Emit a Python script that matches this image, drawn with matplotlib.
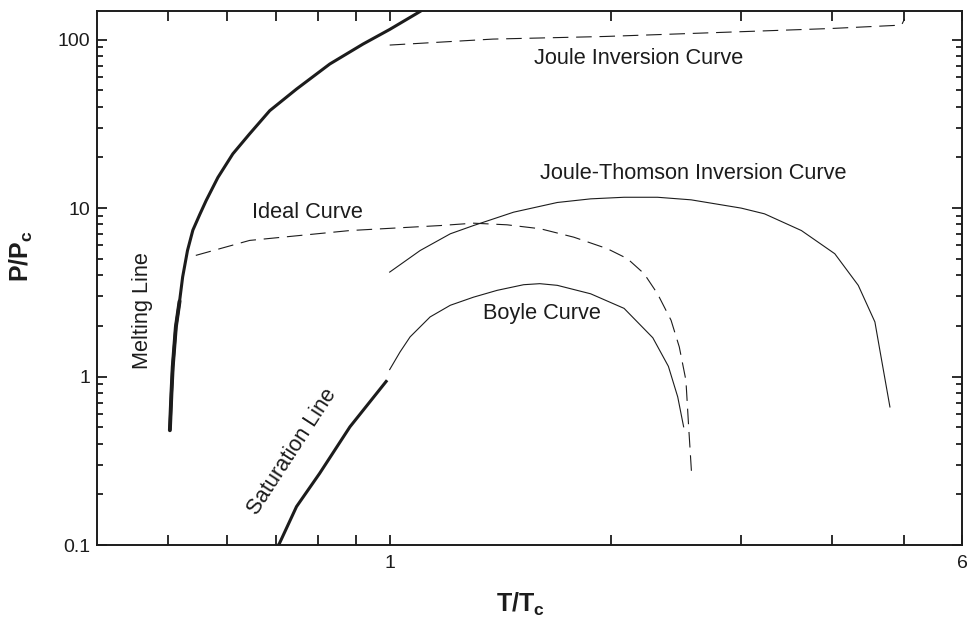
import matplotlib
matplotlib.use("Agg")
import matplotlib.pyplot as plt
from matplotlib.ticker import FixedLocator, NullFormatter, FuncFormatter, LogLocator

plt.rcParams['font.family'] = ['Liberation Sans', 'DejaVu Sans']
plt.rcParams['mathtext.fontset'] = 'custom'
plt.rcParams['mathtext.rm'] = 'Liberation Sans'
plt.rcParams['mathtext.bf'] = 'Liberation Sans:bold'

INK = '#1c1c1c'

# reduced temperature / reduced pressure for each curve
melt_T = [0.5025, 0.505, 0.507, 0.512, 0.518, 0.523, 0.531, 0.540, 0.552, 0.563,
          0.584, 0.612, 0.645, 0.687, 0.747, 0.829, 0.920, 1.00, 1.094, 1.14]
melt_P = [0.48, 0.80, 1.14, 1.97, 2.8, 3.9, 5.6, 7.4, 9.2, 11.1,
          15.2, 21.0, 27.6, 37.9, 50.9, 71.7, 94.2, 115, 145, 162]

sat_T = [0.70, 0.708, 0.747, 0.803, 0.883, 0.992]
sat_P = [0.095, 0.102, 0.169, 0.266, 0.503, 0.951]

boyle_T = [1.0, 1.033, 1.066, 1.135, 1.209, 1.300, 1.40, 1.521, 1.60, 1.690,
           1.876, 2.083, 2.279, 2.393, 2.464, 2.510]
boyle_P = [1.10, 1.40, 1.72, 2.26, 2.65, 2.96, 3.25, 3.51, 3.56, 3.48,
           3.10, 2.54, 1.70, 1.15, 0.757, 0.503]

ideal_T = [0.545, 0.645, 0.883, 1.172, 1.300, 1.444, 1.603, 1.780, 1.977, 2.105,
           2.218, 2.313, 2.413, 2.476, 2.528, 2.549, 2.574]
ideal_P = [5.24, 6.43, 7.36, 7.88, 8.14, 7.96, 7.54, 6.72, 5.74, 5.01,
           4.08, 3.10, 2.16, 1.50, 0.95, 0.514, 0.26]

jt_T = [1.0, 1.1, 1.209, 1.300, 1.474, 1.690, 1.876, 2.083, 2.313, 2.569,
        3.006, 3.233, 3.629, 4.029, 4.336, 4.568, 4.640, 4.788]
jt_P = [4.17, 5.6, 7.04, 7.88, 9.46, 10.8, 11.35, 11.6, 11.6, 11.2,
        10.0, 9.25, 7.36, 5.36, 3.48, 2.11, 1.43, 0.66]

joule_T = [1.0, 1.381, 1.965, 2.796, 3.98, 4.86, 4.97, 5.01]
joule_P = [92.9, 100.8, 104.5, 110.3, 116.5, 121.5, 123.0, 132.4]

x_major = [1, 6]
x_minor = [0.5, 0.6, 0.7, 0.8, 0.9, 2, 3, 4, 5]
y_major = [0.1, 1, 10, 100]

fig = plt.figure(figsize=(9.67, 6.18), dpi=100)
ax = fig.add_axes([97 / 967, 1 - 545 / 618, 865 / 967, 534 / 618])
ax.set_xscale('log')
ax.set_yscale('log')
ax.set_xlim(0.4, 6)
ax.set_ylim(0.1, 148)

dash = (0, (14, 7))
ax.plot(melt_T, melt_P, color=INK, lw=2.2, solid_capstyle='butt', solid_joinstyle='round')
# lower end of the melting line is drawn a bit heavier
ax.plot(melt_T[:5], melt_P[:5], color=INK, lw=2.8, solid_capstyle='round', solid_joinstyle='round')
ax.plot(sat_T, sat_P, color=INK, lw=2.2, solid_capstyle='butt')
ax.plot(boyle_T, boyle_P, color=INK, lw=0.8)
ax.plot(jt_T, jt_P, color=INK, lw=0.8)
ax.plot(ideal_T, ideal_P, color=INK, lw=0.8, ls=dash)
ax.plot(joule_T, joule_P, color=INK, lw=0.8, ls=dash)

fs = 15.7
ax.text(0.772, 9.42, 'Ideal Curve', fontsize=fs, color=INK, ha='center', va='center')
ax.text(1.612, 2.37, 'Boyle Curve', fontsize=fs, color=INK, ha='center', va='center')
ax.text(2.585, 16.0, 'Joule-Thomson Inversion Curve', fontsize=fs, color=INK,
        ha='center', va='center')
ax.text(2.182, 77.0, 'Joule Inversion Curve', fontsize=fs, color=INK,
        ha='center', va='center')
ax.text(0.461, 2.47, 'Melting Line', fontsize=fs, color=INK, rotation=90,
        ha='center', va='center')
ax.text(0.736, 0.356, 'Saturation Line', fontsize=fs, color=INK, rotation=57,
        ha='center', va='center', rotation_mode='anchor')

ax.xaxis.set_major_locator(FixedLocator(x_major))
ax.xaxis.set_minor_locator(FixedLocator(x_minor))
ax.xaxis.set_major_formatter(FuncFormatter(lambda v, p: f'{v:g}'))
ax.xaxis.set_minor_formatter(NullFormatter())
ax.yaxis.set_major_locator(FixedLocator(y_major))
ax.yaxis.set_minor_locator(LogLocator(base=10, subs=range(2, 10)))
ax.yaxis.set_major_formatter(FuncFormatter(lambda v, p: f'{v:g}'))
ax.yaxis.set_minor_formatter(NullFormatter())

ax.tick_params(which='both', direction='in', top=True, right=True,
               width=1.3, color=INK, labelcolor=INK, labelsize=14)
ax.tick_params(axis='x', which='both', length=7, pad=7)
ax.tick_params(axis='y', which='major', length=7, pad=5)
ax.tick_params(axis='y', which='minor', length=4)
for s in ax.spines.values():
    s.set_linewidth(1.4)
    s.set_color(INK)

ax.set_xlabel(r'T/T$_\mathregular{c}$', fontsize=18, fontweight='bold', color=INK)
ax.set_ylabel(r'P/P$_\mathregular{c}$', fontsize=18, fontweight='bold', color=INK)
ax.xaxis.set_label_coords(0.49, -0.085)
ax.yaxis.set_label_coords(-0.072, 0.54)

fig.savefig('out.png', dpi=100)
